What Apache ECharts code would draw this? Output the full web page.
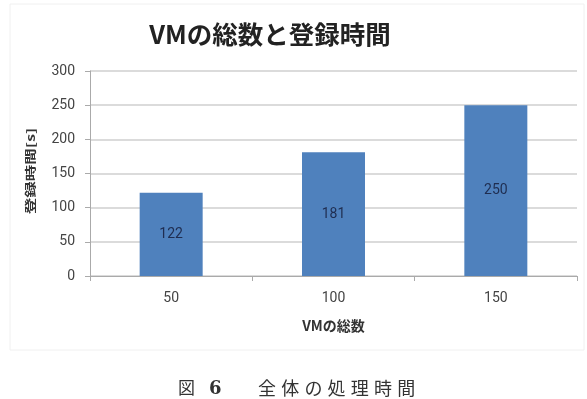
<!DOCTYPE html>
<html>
<head>
<meta charset="utf-8">
<script src="https://cdn.jsdelivr.net/npm/echarts@6/dist/echarts.min.js"></script>
<style>
  html, body { margin: 0; padding: 0; background: #fff; }
  #chart { width: 587px; height: 399px; }
</style>
</head>
<body>
<div id="chart"></div>
<script>
// VMの数
const categories = ['50', '100', '150']
// 登録時間[s]
const values = [122, 181, 250]
const yTicks = [0, 50, 100, 150, 200, 250, 300]
const caption = '全体の処理時間'

const chart = echarts.init(document.getElementById('chart'))
const font = '"Noto Sans CJK JP", "Noto Sans", sans-serif'
const numFont = 'Roboto, "Noto Sans", sans-serif'

// 図のキャプション（1文字ずつ並べる）
const captionChars = caption.split('').map((ch, i) => ({
  type: 'text',
  x: 258 + i * 23.2,
  y: 388,
  style: {
    text: ch,
    font: '18px "Noto Sans CJK JP", serif',
    fill: '#333',
    textVerticalAlign: 'middle'
  },
  silent: true
}))

const option = {
  backgroundColor: '#fff',
  textStyle: { fontFamily: font },
  title: {
    text: 'VMの総数と登録時間',
    left: 265,
    top: 17,
    textAlign: 'center',
    textStyle: { fontSize: 25.5, fontWeight: 'bold', color: '#222', fontFamily: font }
  },
  graphic: [
    { // 外枠（うすい）
      type: 'rect',
      shape: { x: 10, y: 4, width: 574, height: 346 },
      style: { fill: 'none', stroke: '#f0f0f0', lineWidth: 1 },
      silent: true
    },
    { // y軸タイトル
      type: 'text',
      x: 31,
      y: 171,
      rotation: Math.PI / 2,
      scaleX: 1.5,
      style: {
        text: '登録時間[s]',
        font: 'bold 11px "Noto Sans CJK JP", sans-serif',
        fill: '#333',
        textAlign: 'center',
        textVerticalAlign: 'middle'
      },
      silent: true
    },
    {
      type: 'text',
      x: 178,
      y: 388,
      style: {
        text: '図',
        font: '17px "Noto Sans CJK JP", serif',
        fill: '#333',
        textVerticalAlign: 'middle'
      },
      silent: true
    },
    {
      type: 'text',
      x: 209,
      y: 389,
      style: {
        text: '6',
        font: 'bold 18px "DejaVu Serif", "Liberation Serif", serif',
        fill: '#333',
        textVerticalAlign: 'middle'
      },
      silent: true
    }
  ].concat(captionChars),
  grid: {
    left: 90,
    right: 10,
    top: 71,
    bottom: 123
  },
  xAxis: {
    type: 'category',
    data: categories,
    boundaryGap: true,
    name: 'VMの総数',
    nameLocation: 'middle',
    nameGap: 43,
    nameTextStyle: { fontSize: 14, fontWeight: 'bold', color: '#333', fontFamily: font },
    axisLine: { lineStyle: { color: '#aaa', width: 1 } },
    axisTick: { show: true, alignWithLabel: false, length: 5, lineStyle: { color: '#aaa' } },
    axisLabel: { fontSize: 14, color: '#444', margin: 15, fontFamily: numFont }
  },
  yAxis: {
    type: 'value',
    min: yTicks[0],
    max: yTicks[yTicks.length - 1],
    interval: 50,
    axisLine: { show: true, lineStyle: { color: '#aaa', width: 1 } },
    axisTick: { show: true, length: 5, lineStyle: { color: '#aaa' } },
    axisLabel: { fontSize: 14, color: '#444', margin: 15, fontFamily: numFont },
    splitLine: { lineStyle: { color: '#cfcfcf', width: 1.5 } }
  },
  series: [
    {
      type: 'bar',
      data: values,
      barWidth: 63,
      itemStyle: { color: '#4f81bd' },
      label: {
        show: true,
        position: 'inside',
        fontSize: 14,
        color: '#1f2d50',
        fontFamily: numFont
      }
    }
  ]
}

chart.setOption(option)
</script>
</body>
</html>
